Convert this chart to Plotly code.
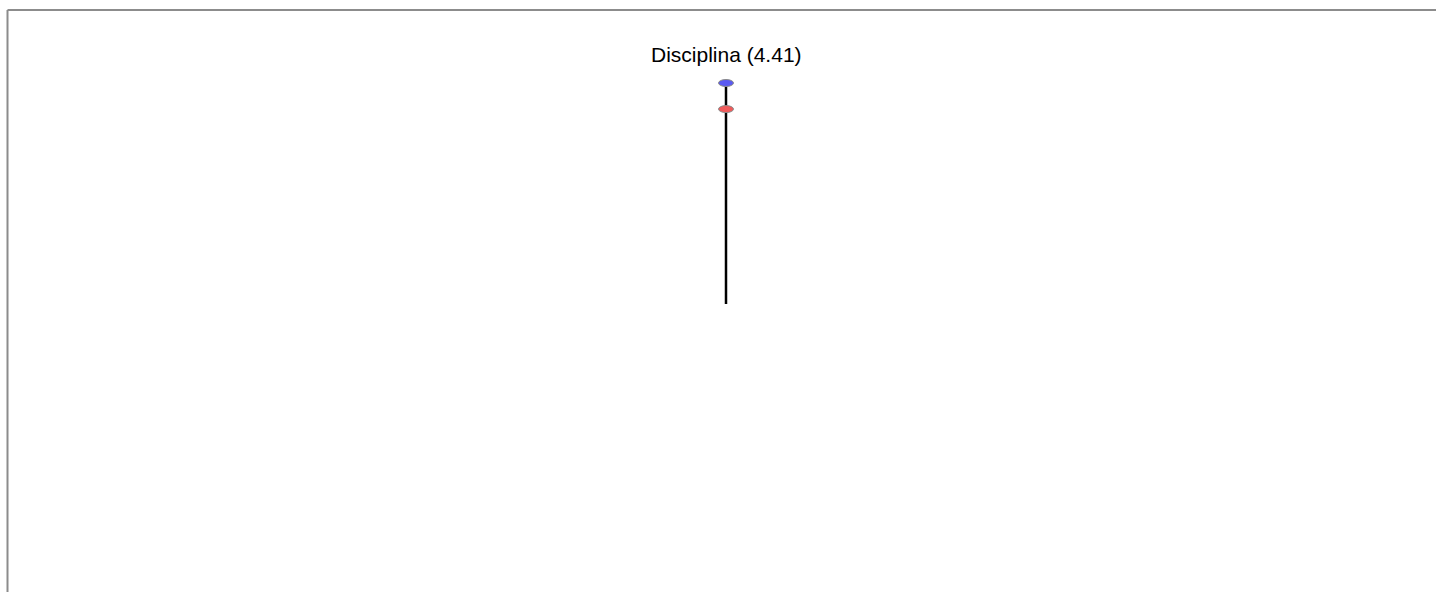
import plotly.graph_objects as go

# Data
categories = ["Disciplina"]
scores = [4.41]
max_scores = [5.0]
min_scores = [0.0]

FIG_W, FIG_H = 1436, 592
PX_PER_UNIT = 44.2
ZERO_Y_FROM_TOP = 304
X_CENTER = 726

fig = go.Figure()

for i, (cat, s, mx, mn) in enumerate(zip(categories, scores, max_scores, min_scores)):
    fig.add_trace(go.Scatter(
        x=[i, i], y=[mn, mx], mode="lines",
        line=dict(color="black", width=2.5),
        hoverinfo="skip", showlegend=False,
    ))
    # max marker (blue ellipse)
    fig.add_shape(type="circle", xref="x", yref="y",
                  xsizemode="pixel", ysizemode="pixel",
                  xanchor=i, yanchor=mx, x0=-7.5, x1=7.5, y0=-3.5, y1=3.5,
                  fillcolor="#5a5af2", line=dict(color="#8a8a8a", width=1))
    # score marker (red ellipse)
    fig.add_shape(type="circle", xref="x", yref="y",
                  xsizemode="pixel", ysizemode="pixel",
                  xanchor=i, yanchor=s, x0=-7.5, x1=7.5, y0=-3.5, y1=3.5,
                  fillcolor="#f05a5a", line=dict(color="#8a8a8a", width=1))
    fig.add_annotation(x=i, y=mx, xref="x", yref="y",
                       text=f"{cat} ({s:.2f})", showarrow=False,
                       yshift=29, yanchor="middle", xanchor="center",
                       font=dict(family="Arial, Liberation Sans, sans-serif", size=21, color="black"))

# frame (top and left edges visible)
fig.add_shape(type="line", xref="paper", yref="paper", x0=7.5 / FIG_W, x1=1,
              y0=1 - 10 / FIG_H, y1=1 - 10 / FIG_H, line=dict(color="#8c8c8c", width=2))
fig.add_shape(type="line", xref="paper", yref="paper", x0=7.5 / FIG_W, x1=7.5 / FIG_W,
              y0=0, y1=1 - 10 / FIG_H, line=dict(color="#8c8c8c", width=2))

fig.update_xaxes(range=[-X_CENTER, FIG_W - X_CENTER], visible=False, fixedrange=True)
fig.update_yaxes(range=[-(FIG_H - ZERO_Y_FROM_TOP) / PX_PER_UNIT, ZERO_Y_FROM_TOP / PX_PER_UNIT],
                 visible=False, fixedrange=True)

fig.update_layout(
    width=FIG_W, height=FIG_H,
    margin=dict(l=0, r=0, t=0, b=0),
    paper_bgcolor="white", plot_bgcolor="white",
    showlegend=False,
)

fig.write_html(
    "out.html",
    config={"displayModeBar": False},
    post_script="document.body.style.margin='0';document.body.style.overflow='hidden';",
)
